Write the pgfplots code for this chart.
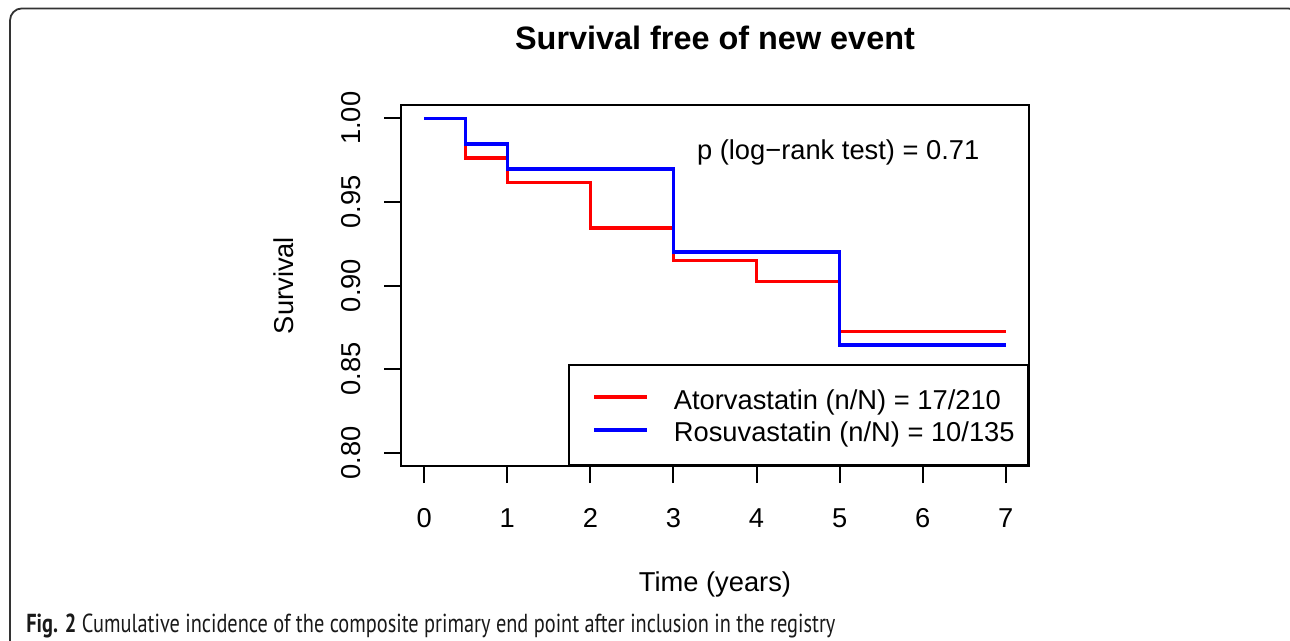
\documentclass[border=0pt]{standalone}
\usepackage{fontspec}
\setmainfont{Liberation Sans}
\newfontfamily\capfont{PT Sans}
\usepackage{pgfplots}
\pgfplotsset{compat=1.18}
\definecolor{rred}{RGB}{255,0,0}
\definecolor{rblue}{RGB}{0,0,255}
\begin{document}
\fontsize{13.65bp}{16bp}\selectfont
\begin{tikzpicture}
\path[use as bounding box] (0bp,0bp) rectangle (645bp,-320.5bp);
\begin{scope}
\clip (0bp,0bp) rectangle (645bp,-320.5bp);
\draw[black!80, line width=0.9bp, rounded corners=6bp] (5bp,-340bp) -- (5bp,-4.2bp) -- (650bp,-4.2bp) -- (650bp,-340bp);
\end{scope}
\begin{axis}[
  at={(200.5bp,-233bp)}, anchor=south west,
  scale only axis, width=314bp, height=180.5bp,
  xmin=-0.28, xmax=7.28, ymin=0.792, ymax=1.008,
  xtick={0,1,2,3,4,5,6,7},
  ytick={0.8,0.85,0.9,0.95,1},
  yticklabels={0.80,0.85,0.90,0.95,1.00},
  xtick pos=bottom, ytick pos=left,
  tick align=outside, major tick length=8.5bp,
  every tick/.style={black, line width=1bp},
  axis line style={black, line width=1bp},
  /pgf/number format/assume math mode=true,
  ticklabel style={font=\fontsize{13.65bp}{16bp}\selectfont},
  xticklabel style={anchor=base, yshift=-22bp},
  yticklabel style={xshift=-12bp, rotate=90, anchor=base},
  title={Survival free of new event},
  every axis title shift=0pt,
  title style={at={(axis description cs:0.5,1.1543)}, anchor=base, inner sep=0pt, font=\bfseries\fontsize{16.2bp}{18bp}\selectfont},
  xlabel={Time (years)},
  ylabel={Survival},
  every axis x label/.style={at={(axis description cs:0.5,-0.3482)}, anchor=base, inner sep=0pt, font=\fontsize{13.65bp}{16bp}\selectfont},
  every axis y label/.style={at={(axis description cs:-0.1715,0.5)}, rotate=90, anchor=base, inner sep=0pt, font=\fontsize{13.65bp}{16bp}\selectfont},
  legend cell align=left,
  legend style={at={(1,0)}, anchor=south east, draw=black, line width=1bp, fill=white,
    inner xsep=11.7bp, inner ysep=10.3bp, row sep=3.35bp, column sep=12.5bp,
    nodes={inner sep=0pt, text height=11.7bp, text depth=1.3bp},
    font=\fontsize{13.65bp}{16bp}\selectfont},
  legend image code/.code={\draw[#1, line width=1.7bp] (0bp,0.8bp) -- (26.5bp,0.8bp);},
]
\addplot[rred, line width=1.7bp, const plot] coordinates {
 (0,1.000) (0.5,0.9763) (1,0.9617) (2,0.9344) (3,0.9148) (4,0.9023) (5,0.8724) (7,0.8724)
};
\addlegendentry{Atorvastatin (n/N) = 17/210}
\addplot[rblue, line width=1.7bp, const plot] coordinates {
 (0,1.000) (0.5,0.9847) (1,0.9697) (3,0.9201) (5,0.8643) (7,0.8643)
};
\addlegendentry{Rosuvastatin (n/N) = 10/135\kern-5bp}
\node[anchor=base, inner sep=0pt] at (axis cs:4.983,0.9751) {p (log−rank test) = 0.71};
\end{axis}
\node[anchor=base west, inner sep=0pt, text=black!90] at (13bp,-316.35bp) {\resizebox{404.5bp}{9.3bp}{\capfont\fontsize{12.4bp}{14bp}\selectfont\textbf{Fig. 2} Cumulative incidence of the composite primary end point after inclusion in the registry}};
\end{tikzpicture}
\end{document}
